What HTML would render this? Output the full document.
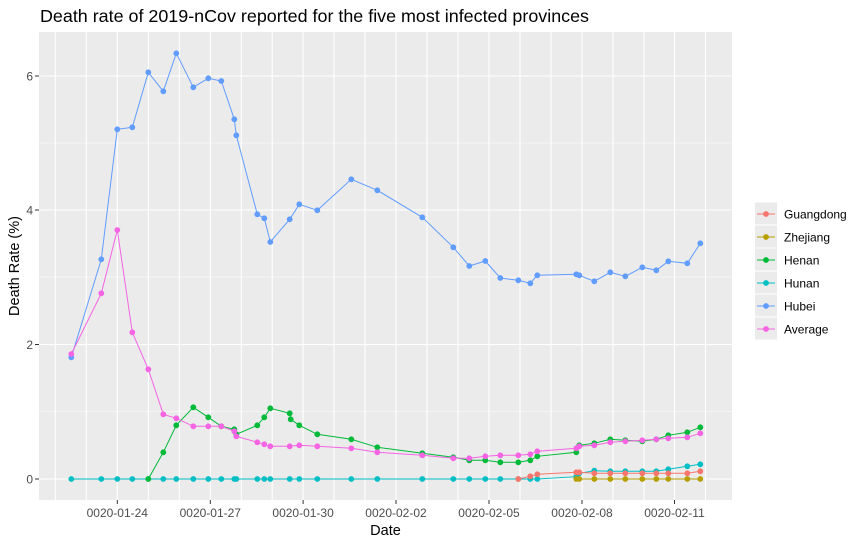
<!DOCTYPE html>
<html><head><meta charset="utf-8"><style>
html,body{margin:0;padding:0;background:#fff}
svg{display:block;font-family:"Liberation Sans",Arial,sans-serif}
</style></head><body>
<svg width="864" height="545" viewBox="0 0 864 545" xmlns="http://www.w3.org/2000/svg">
<rect width="864" height="545" fill="#fff"/>
<text x="40" y="22" font-size="17.5" fill="#000" textLength="549" lengthAdjust="spacingAndGlyphs">Death rate of 2019-nCov reported for the five most infected provinces</text>
<rect x="39" y="32" width="693" height="468" fill="#EBEBEB"/>
<g stroke="#fff" stroke-width="0.6">
<line x1="39" x2="732" y1="411.5" y2="411.5"/><line x1="39" x2="732" y1="277" y2="277"/><line x1="39" x2="732" y1="143" y2="143"/>
</g>
<g stroke="#fff" stroke-width="1.1">
<line x1="39" x2="732" y1="479" y2="479"/><line x1="39" x2="732" y1="344.5" y2="344.5"/><line x1="39" x2="732" y1="210" y2="210"/><line x1="39" x2="732" y1="76" y2="76"/>
<line x1="55.3" x2="55.3" y1="32" y2="500"/><line x1="86.3" x2="86.3" y1="32" y2="500"/><line x1="117.3" x2="117.3" y1="32" y2="500"/>
<line x1="148.3" x2="148.3" y1="32" y2="500"/><line x1="179.3" x2="179.3" y1="32" y2="500"/><line x1="210.3" x2="210.3" y1="32" y2="500"/>
<line x1="241.3" x2="241.3" y1="32" y2="500"/><line x1="272.2" x2="272.2" y1="32" y2="500"/><line x1="303.1" x2="303.1" y1="32" y2="500"/>
<line x1="334" x2="334" y1="32" y2="500"/><line x1="365" x2="365" y1="32" y2="500"/><line x1="396" x2="396" y1="32" y2="500"/>
<line x1="427" x2="427" y1="32" y2="500"/><line x1="458" x2="458" y1="32" y2="500"/><line x1="489" x2="489" y1="32" y2="500"/>
<line x1="520" x2="520" y1="32" y2="500"/><line x1="551" x2="551" y1="32" y2="500"/><line x1="582" x2="582" y1="32" y2="500"/>
<line x1="613" x2="613" y1="32" y2="500"/><line x1="644" x2="644" y1="32" y2="500"/><line x1="674.5" x2="674.5" y1="32" y2="500"/>
<line x1="705.5" x2="705.5" y1="32" y2="500"/>
</g>
<g fill="none" stroke-width="1">
<polyline stroke="#00BFC4" points="71.3,479 101.3,479 117.3,479 132.3,479 148.3,479 163.3,479 176.3,479 193.3,479 208.3,479 221.3,479 234.3,479 236.3,479 257.3,479 264.3,479 270.3,479 289.7,479 299.3,479 317.3,479 351.3,479 377.3,479 422.3,479 453.3,479 469.3,479 485.3,479 500.3,479 518.3,479 530.3,479 537.3,479 576.3,476.7 579.3,473.3 594.3,470.7 610.3,471.3 625.3,471.3 642.3,471.3 656.3,471.3 668.3,469.3 687.3,466.3 700.3,464.3"/>
<polyline stroke="#F8766D" points="518.3,479 530.3,476.3 537.3,474.3 576.3,472.3 579.3,472.3 594.3,473.3 610.3,473.3 625.3,473.3 642.3,473.3 656.3,473.3 668.3,473.3 687.3,473.3 700.3,471.3"/>
<polyline stroke="#B79F00" points="576.3,479 579.3,479 594.3,479 610.3,479 625.3,479 642.3,479 656.3,479 668.3,479 687.3,479 700.3,479"/>
<polyline stroke="#00BA38" points="148.3,479 163.3,452.3 176.3,425.3 193.3,407.3 208.3,417.3 221.3,426.3 234.3,429.3 236.3,434.3 257.3,425.3 264.3,417.3 270.3,408.3 289.7,413.3 290.7,419.3 299.3,425.3 317.3,434.3 351.3,439.3 377.3,447.3 422.3,453.3 453.3,457.3 469.3,460.3 485.3,460.3 500.3,462.3 518.3,462.3 530.3,460.3 537.3,456.3 576.3,452.3 579.3,445.3 594.3,443.3 610.3,439.3 625.3,440.3 642.3,441.3 656.3,439.3 668.3,435.3 687.3,432.3 700.3,427.3"/>
<polyline stroke="#619CFF" points="71.3,357.3 101.3,259.3 117.3,129.3 132.3,127.3 148.3,72.3 163.3,91.3 176.3,53.3 193.3,87.3 208.3,78.3 221.3,81 234.3,119.3 236.3,135.3 257.3,214.3 264.3,218.3 270.3,242 289.7,219.3 299.3,204.3 317.3,210.3 351.3,179.3 377.3,190.3 422.3,217.3 453.3,247.3 469.3,266 485.3,261 500.3,278 518.3,280.3 530.3,283.3 537.3,275.3 576.3,274.3 579.3,275.3 594.3,281.3 610.3,272.3 625.3,276.3 642.3,267.3 656.3,270.3 668.3,261.3 687.3,263.3 700.3,243.3"/>
<polyline stroke="#F564E3" points="71.3,354 101.3,293.3 117.3,230 132.3,332.3 148.3,369.3 163.3,414.3 176.3,418.3 193.3,426.3 208.3,426.3 221.3,426.3 234.3,431.3 236.3,436.3 257.3,442.3 264.3,444.3 270.3,446.3 289.7,446.3 299.3,445.3 317.3,446.3 351.3,448.3 377.3,452.3 422.3,455.3 453.3,458.3 469.3,458.3 485.3,456.3 500.3,455.3 518.3,455.3 530.3,454.3 537.3,451.3 576.3,448.3 579.3,446.3 594.3,445.3 610.3,442.3 625.3,441.3 642.3,440.3 656.3,439.3 668.3,438.3 687.3,437.3 700.3,433.3"/>
</g>
<g id="pts"></g>
<g fill="#444" stroke="#333" stroke-width="1">
<line x1="35" x2="39" y1="479" y2="479"/><line x1="35" x2="39" y1="344.5" y2="344.5"/><line x1="35" x2="39" y1="210" y2="210"/><line x1="35" x2="39" y1="76" y2="76"/>
<line x1="117.3" x2="117.3" y1="500" y2="504"/><line x1="210.3" x2="210.3" y1="500" y2="504"/><line x1="303.1" x2="303.1" y1="500" y2="504"/><line x1="396" x2="396" y1="500" y2="504"/><line x1="489" x2="489" y1="500" y2="504"/><line x1="582" x2="582" y1="500" y2="504"/><line x1="674.5" x2="674.5" y1="500" y2="504"/>
</g>
<g font-size="12" fill="#4D4D4D" text-anchor="end">
<text x="33" y="483.5">0</text><text x="33" y="349">2</text><text x="33" y="214.5">4</text><text x="33" y="80.5">6</text>
</g>
<g font-size="12" fill="#4D4D4D" text-anchor="middle">
<text x="117.3" y="517">0020-01-24</text><text x="210.3" y="517">0020-01-27</text><text x="303.1" y="517">0020-01-30</text><text x="396" y="517">0020-02-02</text><text x="489" y="517">0020-02-05</text><text x="582" y="517">0020-02-08</text><text x="674.5" y="517">0020-02-11</text>
</g>
<text x="385.5" y="535" font-size="14.5" text-anchor="middle" fill="#000">Date</text>
<text transform="translate(19,266) rotate(-90)" font-size="14.5" text-anchor="middle" fill="#000">Death Rate (%)</text>
<g id="legend"></g>
<script>
var ns="http://www.w3.org/2000/svg";
function c(g,x,y,col){var e=document.createElementNS(ns,"circle");e.setAttribute("cx",x);e.setAttribute("cy",y);e.setAttribute("r",2.9);e.setAttribute("fill",col);g.appendChild(e);}
var g=document.getElementById("pts");
var order=["#00BFC4","#F8766D","#B79F00","#00BA38","#619CFF","#F564E3"];
var pls=document.querySelectorAll("polyline");
pls.forEach(function(p){var col=p.getAttribute("stroke");p.getAttribute("points").trim().split(/\s+/).forEach(function(s){var a=s.split(",");c(g,a[0],a[1],col);});});
var L=document.getElementById("legend");
var items=[["Guangdong","#F8766D"],["Zhejiang","#B79F00"],["Henan","#00BA38"],["Hunan","#00BFC4"],["Hubei","#619CFF"],["Average","#F564E3"]];
items.forEach(function(it,i){var y=202.5+i*23;
var r=document.createElementNS(ns,"rect");r.setAttribute("x",755);r.setAttribute("y",y);r.setAttribute("width",22);r.setAttribute("height",22);r.setAttribute("fill","#EBEBEB");L.appendChild(r);
var l=document.createElementNS(ns,"line");l.setAttribute("x1",757);l.setAttribute("x2",775);l.setAttribute("y1",y+11.5);l.setAttribute("y2",y+11.5);l.setAttribute("stroke",it[1]);L.appendChild(l);
c(L,766,y+11.5,it[1]);
var t=document.createElementNS(ns,"text");t.setAttribute("x",784);t.setAttribute("y",y+16);t.setAttribute("font-size","12");t.setAttribute("fill","#000");t.textContent=it[0];L.appendChild(t);});
</script>
</svg>
</body></html>
